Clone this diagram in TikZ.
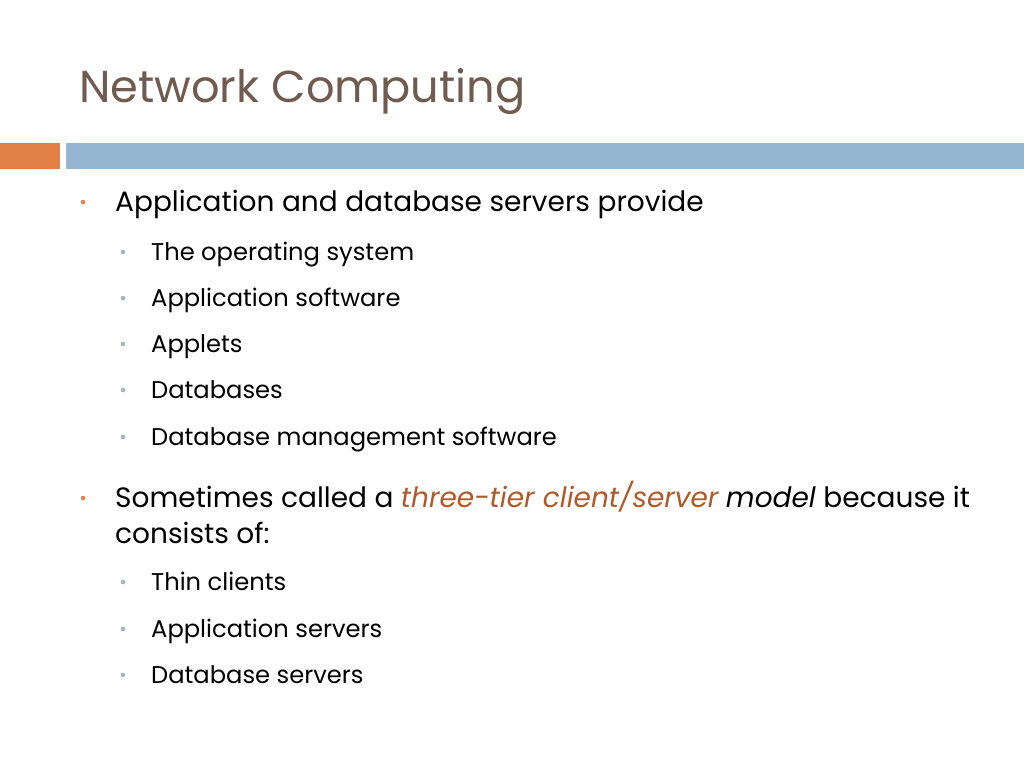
\documentclass[tikz,border=0pt]{standalone}
\usepackage{fontspec}
\setmainfont{Poppins}[Ligatures=NoCommon]
\definecolor{titlebrown}{RGB}{111,91,80}
\definecolor{barorange}{RGB}{224,128,68}
\definecolor{barblue}{RGB}{148,182,210}
\definecolor{emphbrown}{RGB}{176,89,42}
\definecolor{dotblue}{RGB}{160,178,198}
\begin{document}
\begin{tikzpicture}[x=1pt, y=-1pt,
    lvlone/.style={anchor=base west, inner sep=0pt, font=\fontsize{28}{32}\selectfont},
    lvltwo/.style={anchor=base west, inner sep=0pt, font=\fontsize{24.2}{28}\selectfont},
    dotone/.style={fill=barorange, circle, inner sep=0pt, minimum size=4.5pt},
    dottwo/.style={fill=dotblue, circle, inner sep=0pt, minimum size=4.5pt}]

    \useasboundingbox[fill=white] (0,0) rectangle (1024,768);

    % title and bars
    \node[anchor=base west, inner sep=0pt, text=titlebrown, font=\fontsize{44.7}{50}\selectfont] (title) at (79,102) {Network Computing};
    \fill[barorange] (0,143) rectangle (60,169);
    \fill[barblue] (66,143) rectangle (1024,169);

    % first bullet
    \node[dotone] (d1) at (83,202) {};
    \node[lvlone] (p1) at (115,211) {Application and database servers provide};
    \node[dottwo] (d11) at (123,252) {};
    \node[lvltwo] (p11) at (151,260) {The operating system};
    \node[dottwo] (d12) at (123,298) {};
    \node[lvltwo] (p12) at (151,306) {Application software};
    \node[dottwo] (d13) at (123,344) {};
    \node[lvltwo] (p13) at (151,352) {Applets};
    \node[dottwo] (d14) at (123,390) {};
    \node[lvltwo] (p14) at (151,398) {Databases};
    \node[dottwo] (d15) at (123,437) {};
    \node[lvltwo] (p15) at (151,445) {Database management software};

    % second bullet
    \node[dotone] (d2) at (83,498) {};
    \node[lvlone] (p2) at (115,507) {Sometimes called a \textcolor{emphbrown}{\itshape three-tier client/server} \textit{model} because it};
    \node[lvlone] (p2b) at (115,543) {consists of:};
    \node[dottwo] (d21) at (123,582) {};
    \node[lvltwo] (p21) at (151,590) {Thin clients};
    \node[dottwo] (d22) at (123,629) {};
    \node[lvltwo] (p22) at (151,637) {Application servers};
    \node[dottwo] (d23) at (123,675) {};
    \node[lvltwo] (p23) at (151,683) {Database servers};

\end{tikzpicture}
\end{document}
